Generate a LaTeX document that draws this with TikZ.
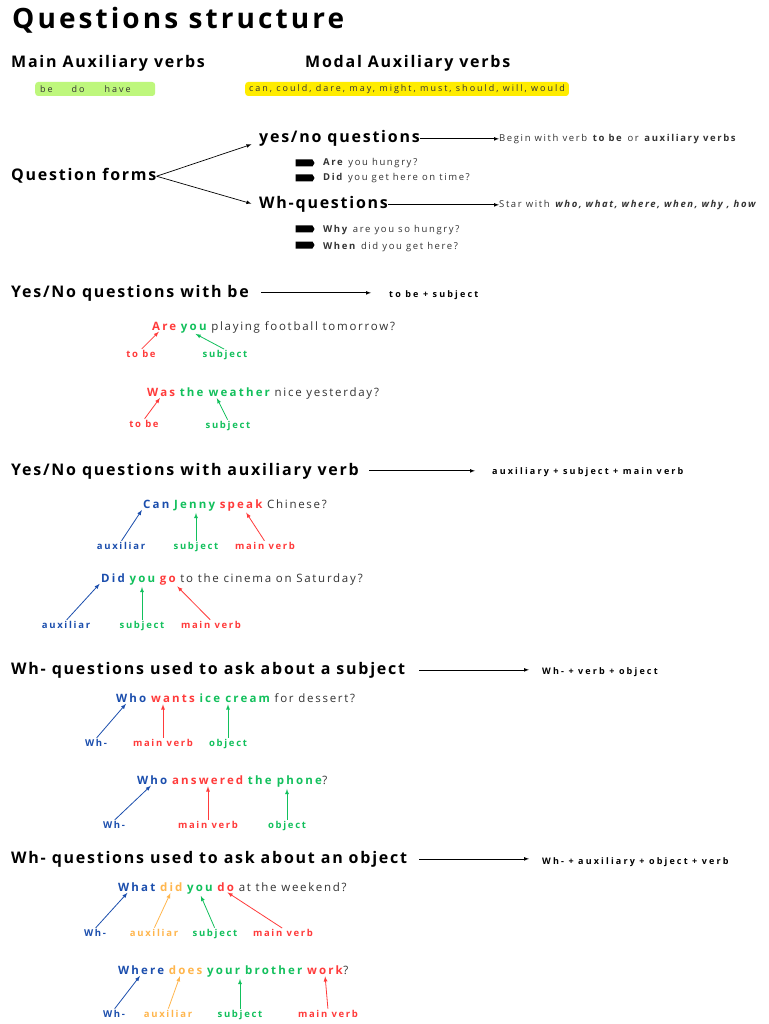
\documentclass[tikz,border=0pt]{standalone}
\usepackage{fontspec}
\setmainfont{Open Sans}
\usepackage{tikz}
\usetikzlibrary{arrows,positioning,shapes.arrows}
\definecolor{qred}{HTML}{FF3B3B}
\definecolor{qgreen}{HTML}{12C05C}
\definecolor{qblue}{HTML}{1B4EAD}
\definecolor{qorange}{HTML}{FFB64D}
\definecolor{qgray}{HTML}{333333}
\definecolor{boxgreen}{HTML}{BEF77C}
\definecolor{boxyellow}{HTML}{FFEC00}
\newcommand{\wgap}{4.3pt}
\tikzset{
  title/.style={anchor=base west, inner sep=0pt, font=\bfseries\fontsize{28}{32}\selectfont\addfontfeature{LetterSpace=11}},
  heading/.style={anchor=base west, inner sep=0pt, font=\bfseries\fontsize{16}{19}\selectfont\addfontfeature{LetterSpace=11}},
  formula/.style={anchor=base west, inner sep=0pt, font=\bfseries\fontsize{9}{11}\selectfont\addfontfeature{LetterSpace=24}},
  small/.style={anchor=base west, inner sep=0pt, text=qgray, font=\fontsize{9.5}{11}\selectfont\addfontfeature{LetterSpace=17}},
  chip/.style={anchor=west, rounded corners=3pt, minimum height=14pt, inner xsep=5pt, inner ysep=0pt, text=qgray, font=\fontsize{9}{11}\selectfont\addfontfeature{LetterSpace=22}},
  word/.style={inner sep=0pt, text=qgray, font=\fontsize{11.5}{14}\selectfont\addfontfeature{LetterSpace=15}},
  hiword/.style={word, text=#1, font=\bfseries\fontsize{11.5}{14}\selectfont\addfontfeature{LetterSpace=19}},
  tag/.style={anchor=base, inner sep=0pt, text=#1, font=\bfseries\fontsize{9.5}{11}\selectfont\addfontfeature{LetterSpace=18}},
  pointer/.style={-latex, line width=0.8pt, shorten >=2pt, shorten <=1pt},
  lead/.style={-latex, line width=0.7pt},
  bullet/.style={single arrow, fill=black, inner sep=0pt, minimum height=19pt, minimum width=7pt, single arrow head extend=0pt, single arrow tip angle=120},
}
\begin{document}
\begin{tikzpicture}[x=1pt, y=-1pt]
\useasboundingbox (0,0) rectangle (768,1024);
\fill[white] (0,0) rectangle (768,1024);

% title and verb lists
\node[title] (ttl) at (12,29) {Questions structure};
\node[heading] (mainaux) at (11,68) {Main Auxiliary verbs};
\node[heading] (modalaux) at (305,68) {Modal Auxiliary verbs};
\node[chip, fill=boxgreen, minimum width=120pt, text width=110pt] (mainbox) at (35,89) {be\hspace{19pt}do\hspace{20pt}have};
\node[chip, fill=boxyellow, inner xsep=4pt] (modalbox) at (245,89) {can, could, dare, may, might, must, should, will, would};

% question forms
\node[heading] (qf) at (11,181) {Question forms};
\node[heading] (yn) at (259,143) {yes/no questions};
\node[heading] (whq) at (259,209) {Wh-questions};
\draw[lead, shorten >=8pt] (qf.east) -- ([yshift=-3pt]yn.west);
\draw[lead, shorten >=8pt] (qf.east) -- ([yshift=-1pt]whq.west);
\node[small] (ynnote) at (499,142) {Begin with verb \textbf{to be} or \textbf{auxiliary verbs}};
\node[small] (whnote) at (499,208) {Star with \textbf{\itshape who, what, where, when, why , how}};
\draw[lead] (yn.east) -- (yn.east -| ynnote.west);
\draw[lead] (whq.east) -- (whq.east -| whnote.west);
\node[bullet] (b1) at (304,163) {};
\node[bullet] (b2) at (304,178) {};
\node[bullet] (b3) at (304,229) {};
\node[bullet] (b4) at (304,245) {};
\node[small] (ex1) at (323,166) {\textbf{Are} you hungry?};
\node[small] (ex2) at (323,181) {\textbf{Did} you get here on time?};
\node[small] (ex3) at (323,233) {\textbf{Why} are you so hungry?};
\node[small] (ex4) at (323,249) {\textbf{When} did you get here?};

% yes/no with be
\node[heading] (hbe) at (11,297) {Yes/No questions with be};
\node[formula] (fbe) at (389,297) {to be + subject};
\draw[lead, shorten <=12pt, shorten >=18pt] (hbe.east) -- (hbe.east -| fbe.west);

\node[hiword=qred, anchor=base west] (are) at (152,330) {Are};
\node[hiword=qgreen, base right=\wgap of are] (youA) {you};
\node[word, base right=\wgap of youA] (restA) {playing football tomorrow?};
\node[tag=qred] (tobeA) at (141,357) {to be};
\node[tag=qgreen] (subjA) at (225,357) {subject};
\draw[pointer, qred] (tobeA.north) -- ([xshift=-4pt]are.south);
\draw[pointer, qgreen] (subjA.north) -- (youA.south);

\node[hiword=qred, anchor=base west] (was) at (147,396) {Was};
\node[hiword=qgreen, base right=\wgap of was] (weather) {the weather};
\node[word, base right=\wgap of weather] (restB) {nice yesterday?};
\node[tag=qred] (tobeB) at (144,427) {to be};
\node[tag=qgreen] (subjB) at (228,428) {subject};
\draw[pointer, qred] (tobeB.north) -- (was.south);
\draw[pointer, qgreen] (subjB.north) -- ([xshift=-9pt]weather.south);

% yes/no with auxiliary verb
\node[heading] (haux) at (11,475) {Yes/No questions with auxiliary verb};
\node[formula] (faux) at (492,474) {auxiliary + subject + main verb};
\draw[lead, shorten <=10pt, shorten >=17pt] (haux.east) -- (haux.east -| faux.west);

\node[hiword=qblue, anchor=base west] (can) at (143,508) {Can};
\node[hiword=qgreen, base right=\wgap of can] (jenny) {Jenny};
\node[hiword=qred, base right=\wgap of jenny] (speak) {speak};
\node[word, base right=\wgap of speak] (restC) {Chinese?};
\node[tag=qblue] (auxC) at (121,549) {auxiliar};
\node[tag=qgreen] (subjC) at (196,549) {subject};
\node[tag=qred] (mvC) at (265,549) {main verb};
\draw[pointer, qblue] (auxC.north) -- (can.south west);
\draw[pointer, qgreen] (subjC.north) -- (subjC.north |- jenny.south);
\draw[pointer, qred] (mvC.north) -- ([xshift=4pt]speak.south);

\node[hiword=qblue, anchor=base west] (did) at (101,582) {Did};
\node[hiword=qgreen, base right=\wgap of did] (youD) {you};
\node[hiword=qred, base right=\wgap of youD] (go) {go};
\node[word, base right=\wgap of go] (restD) {to the cinema on Saturday?};
\node[tag=qblue] (auxD) at (66,628) {auxiliar};
\node[tag=qgreen] (subjD) at (142,628) {subject};
\node[tag=qred] (mvD) at (211,628) {main verb};
\draw[pointer, qblue] (auxD.north) -- (did.south west);
\draw[pointer, qgreen] (subjD.north) -- (subjD.north |- youD.south);
\draw[pointer, qred] (mvD.north) -- (go.south east);

% wh- about a subject
\node[heading] (hsubj) at (11,674) {Wh- questions used to ask about a subject};
\node[formula] (fsubj) at (542,674) {Wh- + verb + object};
\draw[lead, shorten <=14pt, shorten >=13pt] (hsubj.east) -- (hsubj.east -| fsubj.west);

\node[hiword=qblue, anchor=base west] (whoE) at (116,702) {Who};
\node[hiword=qred, base right=\wgap of whoE] (wants) {wants};
\node[hiword=qgreen, base right=\wgap of wants] (icecream) {ice cream};
\node[word, base right=\wgap of icecream] (restE) {for dessert?};
\node[tag=qblue] (whE) at (96,746) {Wh-};
\node[tag=qred] (mvE) at (163,746) {main verb};
\node[tag=qgreen] (objE) at (228,746) {object};
\draw[pointer, qblue] (whE.north) -- ([xshift=-4pt]whoE.south);
\draw[pointer, qred] (mvE.north) -- (mvE.north |- wants.south);
\draw[pointer, qgreen] (objE.north) -- (objE.north |- icecream.south);

\node[hiword=qblue, anchor=base west] (whoF) at (137,784) {Who};
\node[hiword=qred, base right=\wgap of whoF] (answered) {answered};
\node[hiword=qgreen, base right=\wgap of answered] (phone) {the phone};
\node[word, base right=0pt of phone] (restF) {?};
\node[tag=qblue] (whF) at (114,828) {Wh-};
\node[tag=qred] (mvF) at (208,828) {main verb};
\node[tag=qgreen] (objF) at (287,828) {object};
\draw[pointer, qblue] (whF.north) -- (whoF.south);
\draw[pointer, qred] (mvF.north) -- (mvF.north |- answered.south);
\draw[pointer, qgreen] (objF.north) -- (objF.north |- phone.south);

% wh- about an object
\node[heading] (hobj) at (11,863) {Wh- questions used to ask about an object};
\node[formula] (fobj) at (542,864) {Wh- + auxiliary + object + verb};
\draw[lead, shorten <=12pt, shorten >=13pt] (hobj.east) -- (hobj.east -| fobj.west);

\node[hiword=qblue, anchor=base west] (what) at (118,891) {What};
\node[hiword=qorange, base right=\wgap of what] (didG) {did};
\node[hiword=qgreen, base right=\wgap of didG] (youG) {you};
\node[hiword=qred, base right=\wgap of youG] (doG) {do};
\node[word, base right=\wgap of doG] (restG) {at the weekend?};
\node[tag=qblue] (whG) at (95,936) {Wh-};
\node[tag=qorange] (auxG) at (154,936) {auxiliar};
\node[tag=qgreen] (subjG) at (215,936) {subject};
\node[tag=qred] (mvG) at (283,936) {main verb};
\draw[pointer, qblue] (whG.north) -- ([xshift=-8pt]what.south);
\draw[pointer, qorange] (auxG.north) -- (didG.south);
\draw[pointer, qgreen] (subjG.north) -- (youG.south);
\draw[pointer, qred] (mvG.north) -- (doG.south);

\node[hiword=qblue, anchor=base west] (where) at (118,974) {Where};
\node[hiword=qorange, base right=\wgap of where] (does) {does};
\node[hiword=qgreen, base right=\wgap of does] (brother) {your brother};
\node[hiword=qred, base right=\wgap of brother] (work) {work};
\node[word, base right=0pt of work] (restH) {?};
\node[tag=qblue] (whH) at (114,1017) {Wh-};
\node[tag=qorange] (auxH) at (168,1017) {auxiliar};
\node[tag=qgreen] (subjH) at (240,1017) {subject};
\node[tag=qred] (mvH) at (328,1017) {main verb};
\draw[pointer, qblue] (whH.north) -- (where.south);
\draw[pointer, qorange] (auxH.north) -- ([xshift=-5pt]does.south);
\draw[pointer, qgreen] (subjH.north) -- (subjH.north |- brother.south);
\draw[pointer, qred] (mvH.north) -- (work.south);
\end{tikzpicture}
\end{document}
